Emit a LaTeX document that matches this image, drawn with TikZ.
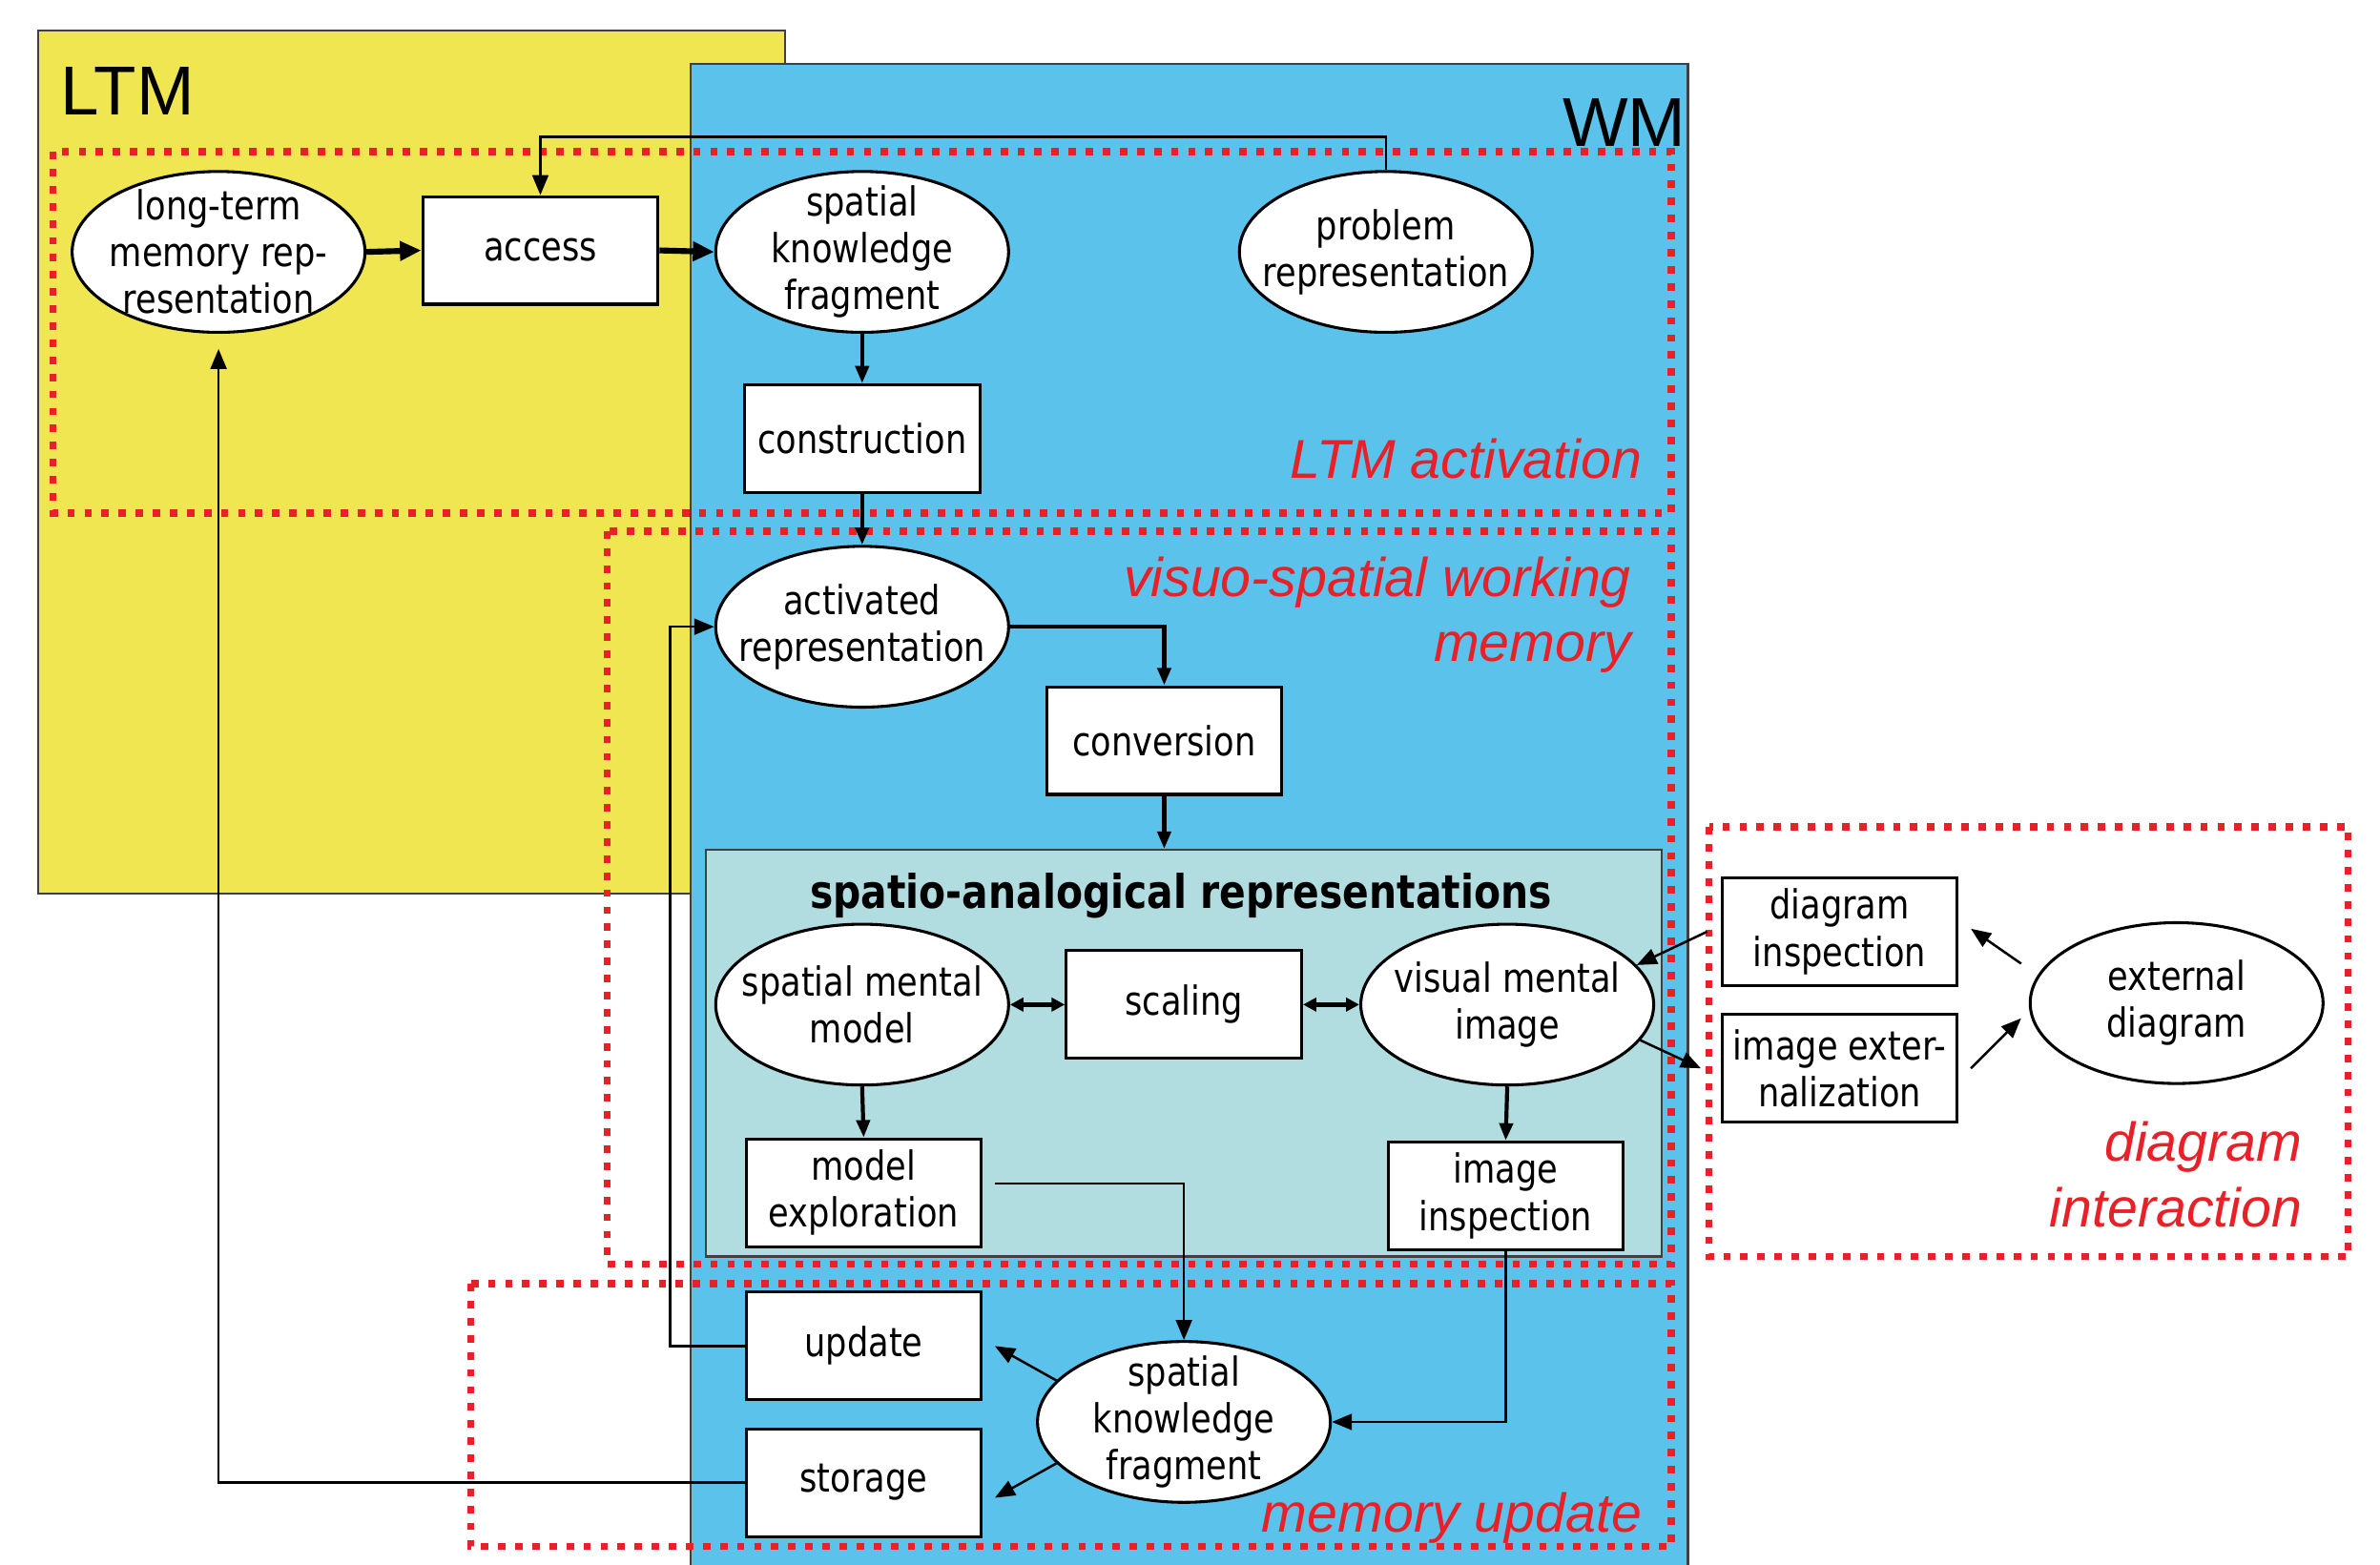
\documentclass[tikz,border=0pt]{standalone}
\usepackage{fontspec}
\setmainfont[FakeStretch=0.84]{DejaVu Sans}
\newfontfamily\zonefont{Liberation Sans}
\usetikzlibrary{shapes.geometric,arrows.meta}
\definecolor{ltmyellow}{RGB}{240,230,82}
\definecolor{wmblue}{RGB}{91,195,235}
\definecolor{sateal}{RGB}{178,221,224}
\definecolor{zred}{RGB}{232,32,40}
\newcommand{\nodefont}{\fontsize{15}{17.6}\selectfont}

\begin{document}
\begin{tikzpicture}[x=0.02cm,y=0.02cm]
	\tikzstyle{every node}+=[inner sep=0pt]
	\tikzstyle{blob}=[draw, ellipse, fill=white, line width=1.1pt, minimum width=3.86cm, minimum height=2.12cm, inner xsep=-0.6cm, inner ysep=-0.45cm, align=center, font=\nodefont]
	\tikzstyle{stepbox}=[draw, rectangle, fill=white, line width=1.1pt, minimum width=3.1cm, minimum height=1.42cm, align=center, font=\nodefont]
	\tikzstyle{zone}=[draw=zred, line width=2.7pt, dash pattern=on 2.8pt off 3.6pt]
	\tikzstyle{zonelabel}=[text=zred, anchor=east, align=right, font=\zonefont\itshape\fontsize{20.5}{24.4}\selectfont]
	\tikzstyle{conn}=[line width=0.9pt, -{Triangle[length=7.5pt,width=6pt]}]
	\tikzstyle{mid conn}=[line width=1.5pt, -{Triangle[length=6.5pt,width=5pt]}]
	\tikzstyle{bold conn}=[line width=2.2pt, -{Triangle[length=8pt,width=7pt]}]
	\tikzstyle{dbl}=[line width=2pt, {Triangle[length=5pt,width=5pt]}-{Triangle[length=5pt,width=5pt]}]
	\useasboundingbox (0,0) rectangle (1568,-1031);
	\fill [white] (0,0) rectangle (1568,-1031);
	\draw [black!75, fill=ltmyellow, line width=0.8pt] (25,-20) rectangle (517,-589);
	\draw [black!75, fill=wmblue, line width=0.8pt] (455,-42) rectangle (1112,-1045);
	\node [font=\zonefont\fontsize{26}{30}\selectfont] (ltm) at (84,-60) {LTM};
	\node [font=\zonefont\fontsize{26}{30}\selectfont] (wm) at (1070,-81) {WM};
	\draw [zone] (35,-100) rectangle (1101,-338);
	\draw [zone] (400,-350) rectangle (1101,-833);
	\draw [zone] (310,-846) rectangle (1101,-1019);
	\draw [zone] (1126,-545) rectangle (1547,-828);
	\node [zonelabel] (ltmact) at (1082,-302) {LTM activation};
	\node [zonelabel] (vswm) at (1075,-405) {visuo-spatial working\\memory};
	\node [zonelabel] (memupd) at (1082,-1000) {memory update};
	\node [zonelabel] (diagint) at (1517,-774) {diagram\\interaction};
	\node [draw=black!75, fill=sateal, line width=0.8pt, minimum width=12.6cm, minimum height=5.36cm] (sa) at (780,-694) {};
	\node [font=\bfseries\fontsize{17.4}{20}\selectfont] (satitle) at (778,-590) {spatio-analogical representations};
	\node [blob] (ltmrep) at (144,-166) {long-term\\memory rep-\\resentation};
	\node [stepbox] (access) at (356,-165) {access};
	\node [blob] (skf) at (568,-166) {spatial\\knowledge\\fragment};
	\node [blob] (problem) at (913,-166) {problem\\representation};
	\node [stepbox] (construction) at (568,-289) {construction};
	\node [blob] (activated) at (568,-413) {activated\\representation};
	\node [stepbox] (conversion) at (767,-488) {conversion};
	\node [blob] (sms) at (568,-662) {spatial mental\\model};
	\node [stepbox] (scaling) at (780,-662) {scaling};
	\node [blob] (vmi) at (993,-662) {visual mental\\image};
	\node [stepbox] (modelexpl) at (569,-786) {model\\exploration};
	\node [stepbox] (imginsp) at (992,-788) {image\\inspection};
	\node [stepbox] (update) at (569,-887) {update};
	\node [stepbox] (storage) at (569,-977) {storage};
	\node [blob] (skfnew) at (780,-937) {spatial\\knowledge\\fragment};
	\node [stepbox] (diaginsp) at (1212,-614) {diagram\\inspection};
	\node [stepbox] (imgext) at (1212,-704) {image exter-\\nalization};
	\node [blob] (extdiag) at (1434,-661) {external\\diagram};
	\draw [bold conn] (ltmrep.east) -- (access.west);
	\draw [bold conn] (access.east) -- (skf.west);
	\draw [conn] (problem.north) -- ++(0,22) -| (access.north);
	\draw [mid conn] (skf.south) -- (construction.north);
	\draw [mid conn] (construction.south) -- (activated.north);
	\draw [mid conn] (activated.east) -| (conversion.north);
	\draw [mid conn] (conversion.south) -- (conversion.south |- sa.north);
	\draw [dbl] (sms.east) -- (scaling.west);
	\draw [dbl] (scaling.east) -- (vmi.west);
	\draw [mid conn] (sms.south) -- (modelexpl.north);
	\draw [mid conn] (vmi.south) -- (imginsp.north);
	\draw [conn] ([xshift=0.16cm,yshift=0.12cm]modelexpl.east) -| (skfnew.north);
	\draw [conn] (imginsp.south) |- (skfnew.east);
	\draw [conn] (skfnew.162) -- ([xshift=0.16cm]update.east);
	\draw [conn] (skfnew.198) -- ([xshift=0.16cm,yshift=-0.2cm]storage.east);
	\draw [conn] (update.west) -- ++(-49,0) |- (activated.west);
	\draw [conn] (storage.west) -| ([yshift=-0.2cm]ltmrep.south);
	\draw [conn] ([xshift=-0.1cm,yshift=0.52cm]extdiag.west) -- ([xshift=0.16cm,yshift=0.04cm]diaginsp.east);
	\draw [conn] ([xshift=0.16cm]imgext.east) -- ([xshift=-0.1cm,yshift=-0.2cm]extdiag.west);
	\draw [conn] ([xshift=-0.18cm]diaginsp.west) -- (vmi.17);
	\draw [conn] (vmi.-15) -- ([xshift=-0.26cm]imgext.west);
\end{tikzpicture}
\end{document}
